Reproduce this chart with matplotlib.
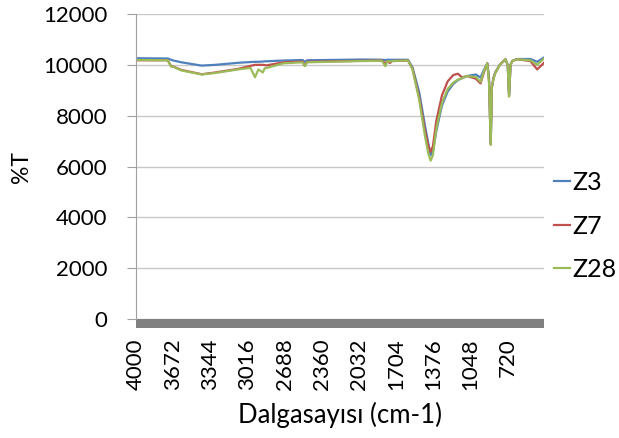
import matplotlib
matplotlib.use("Agg")
import matplotlib.pyplot as plt
from matplotlib.patches import Rectangle

plt.rcParams["font.family"] = ["Lato", "DejaVu Sans"]

# FTIR transmittance spectra (wavenumber in cm-1, %T)
wavenumber = [4000, 3720, 3690, 3670, 3600, 3420, 3300, 3100, 2990, 2950,
              2920, 2880, 2865, 2845, 2700, 2530, 2510, 2490, 2000, 1830,
              1800, 1780, 1760, 1740, 1600, 1560, 1500, 1450, 1420, 1400,
              1380, 1350, 1300, 1250, 1200, 1160, 1120, 1080, 1000, 960,
              930, 900, 885, 870, 860, 845, 830, 790, 740, 720,
              708, 695, 680, 640, 520, 460, 400]

z3 = [10260, 10250, 10200, 10170, 10100, 9970, 10000, 10080, 10110, 10120,
      10120, 10130, 10140, 10140, 10170, 10190, 10120, 10180, 10210, 10200,
      10190, 10200, 10200, 10200, 10200, 9900, 8900, 7600, 6900, 6450,
      6600, 7400, 8400, 8950, 9250, 9400, 9480, 9560, 9620, 9500,
      9800, 10060, 9500, 6900, 9100, 9500, 9700, 10000, 10220, 10000,
      8800, 10000, 10150, 10230, 10230, 10120, 10290]

z7 = [10180, 10180, 9950, 9930, 9800, 9630, 9700, 9840, 9960, 10000,
      10000, 10000, 9990, 9980, 10100, 10130, 9960, 10120, 10160, 10170,
      10060, 10150, 10070, 10150, 10170, 9850, 8700, 7400, 6800, 6580,
      6800, 7800, 8800, 9350, 9600, 9650, 9500, 9560, 9450, 9270,
      9700, 10060, 9400, 6880, 9120, 9480, 9680, 10000, 10220, 10000,
      8780, 10000, 10150, 10220, 10150, 9820, 10080]

z28 = [10190, 10180, 9930, 9920, 9780, 9620, 9680, 9820, 9880, 9510,
       9820, 9700, 9860, 9880, 10060, 10100, 9950, 10100, 10150, 10160,
       9950, 10150, 10120, 10150, 10170, 9820, 8600, 7200, 6500, 6230,
       6450, 7500, 8500, 9050, 9300, 9420, 9480, 9560, 9520, 9330,
       9750, 10060, 9300, 6850, 9140, 9450, 9670, 10000, 10220, 10000,
       8750, 10000, 10150, 10220, 10180, 10000, 10250]

series = [("Z3", z3, "#4F81BD"), ("Z7", z7, "#C0504D"), ("Z28", z28, "#9BBB59")]
xticks = [4000, 3672, 3344, 3016, 2688, 2360, 2032, 1704, 1376, 1048, 720]
yticks = [0, 2000, 4000, 6000, 8000, 10000, 12000]

fig = plt.figure(figsize=(6.19, 4.38), dpi=100)
ax = fig.add_axes([0.2197, 0.2717, 0.6591, 0.6963])

for name, vals, color in series:
    ax.plot(wavenumber, vals, color=color, lw=1.6, label=name)

ax.set_xlim(4000, 400)
ax.set_ylim(0, 12000)
ax.set_xticks(xticks)
ax.set_xticklabels([str(t) for t in xticks], rotation=90, fontsize=16)
ax.set_yticks(yticks)
ax.set_yticklabels([str(t) for t in yticks], fontsize=16)
ax.tick_params(axis="x", length=0, pad=14)
ax.tick_params(axis="y", length=6.5, width=0.8, color="#a0a0a0", pad=14)

ax.grid(axis="y", color="#c8c8c8", lw=1.0)
ax.set_axisbelow(True)
for side in ["top", "right", "bottom"]:
    ax.spines[side].set_visible(False)
ax.spines["left"].set_color("#a0a0a0")
ax.spines["left"].set_linewidth(0.8)

# dense category tick band under the zero line
ax.add_patch(Rectangle((0, -0.03), 1, 0.03, transform=ax.transAxes,
                       clip_on=False, color="#808080", lw=0))

ax.set_xlabel("Dalgasayısı (cm-1)", fontsize=18.5, labelpad=8)
ax.set_ylabel("%T", fontsize=16.5, labelpad=8)

fig.legend(loc="upper left", bbox_to_anchor=(0.879, 0.632), frameon=False,
           fontsize=18, handlelength=0.65, handletextpad=0.1, labelspacing=0.82,
           borderaxespad=0)

fig.savefig("out.png", dpi=100)
